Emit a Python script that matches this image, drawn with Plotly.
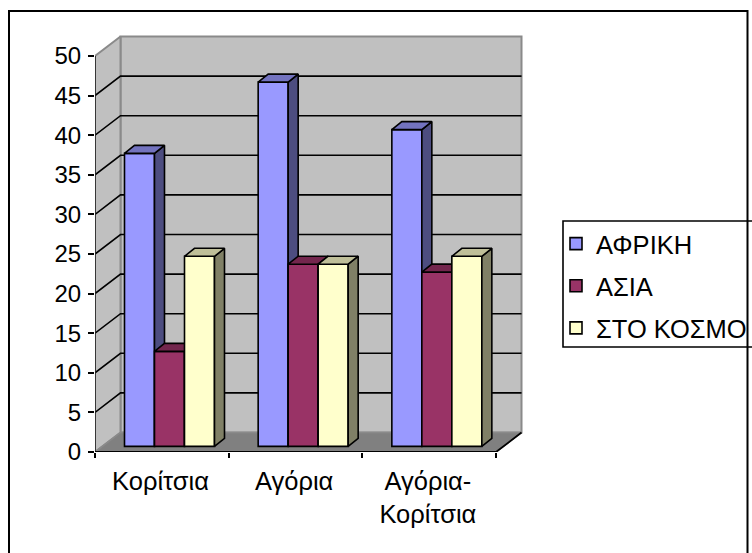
import plotly.graph_objects as go

categories = ["Κορίτσια", "Αγόρια", "Αγόρια-<br>Κορίτσια"]
africa = [37, 46, 40]
asia = [12, 23, 22]
world = [24, 23, 24]
series_names = ["ΑΦΡΙΚΗ", "ΑΣΙΑ", "ΣΤΟ ΚΟΣΜΟ"]
y_ticks = [0, 5, 10, 15, 20, 25, 30, 35, 40, 45, 50]

FONT = "Liberation Sans, Arial, sans-serif"
W, H = 752, 553
PX_L, PX_R, PX_T, PX_B = 95, 530, 28, 452
PX_PER_CAT = 133.67
PX_PER_UNIT = 7.92
XMAX = (PX_R - PX_L) / PX_PER_CAT
YMAX = (PX_B - PX_T) / PX_PER_UNIT
NCAT = len(categories)
TOP = y_ticks[-1]

WALL_DX = 25.5 / PX_PER_CAT
WALL_DY = 19.5 / PX_PER_UNIT
BAR_DX = 10 / PX_PER_CAT
BAR_DY = 8 / PX_PER_UNIT
BAR_W = 30 / PX_PER_CAT
BAR_BASE = 5.6 / PX_PER_UNIT
GROUP_OFF = 29.5 / PX_PER_CAT

WALL = "#c0c0c0"
FLOOR = "#808080"
EDGE = "#8a8a8a"

fig = go.Figure()


def poly(xs, ys, fill, line="black", lw=1.6, ax=""):
    fig.add_trace(go.Scatter(x=xs, y=ys, mode="lines", fill="toself", fillcolor=fill,
                             line=dict(color=line, width=lw), showlegend=False,
                             hoverinfo="skip", xaxis="x" + ax, yaxis="y" + ax))


def seg(xs, ys, color, lw):
    fig.add_trace(go.Scatter(x=xs, y=ys, mode="lines", line=dict(color=color, width=lw),
                             showlegend=False, hoverinfo="skip", cliponaxis=False))


right = NCAT + WALL_DX
# walls and floor
poly([WALL_DX, right, right, WALL_DX, WALL_DX],
     [WALL_DY, WALL_DY, TOP + WALL_DY, TOP + WALL_DY, WALL_DY], WALL, EDGE, 2)
poly([0, WALL_DX, WALL_DX, 0, 0], [0, WALL_DY, TOP + WALL_DY, TOP, 0], WALL, EDGE, 2)
poly([0, NCAT, right, WALL_DX, 0], [0, 0, WALL_DY, WALL_DY, 0], FLOOR, EDGE, 1.5)
# gridlines
for v in y_ticks[1:-1]:
    seg([0, WALL_DX, right], [v, v + WALL_DY, v + WALL_DY], "black", 1.6)
# axis lines
seg([0, 0], [0, TOP], "#222222", 1.6)
seg([0, NCAT, right], [0, 0, WALL_DY], "black", 1.8)

# bars, one overlay per series so that later series cover earlier side faces
styles = [
    (africa, "#9999ff", "#4d4d80", "#7373bf"),
    (asia, "#993366", "#4d1933", "#73264d"),
    (world, "#ffffcc", "#808066", "#bfbf99"),
]
for s, (vals, front, side, top) in enumerate(styles):
    ax = str(s + 2)
    lefts = [c + GROUP_OFF + s * BAR_W for c in range(NCAT)]
    fig.add_trace(go.Bar(x=[l + BAR_W / 2 for l in lefts], y=vals, base=BAR_BASE, width=BAR_W,
                         name=series_names[s], marker=dict(color=front, line=dict(color="black", width=1.6)),
                         legendgroup=series_names[s], hoverinfo="skip", xaxis="x" + ax, yaxis="y" + ax))
    for l, v in zip(lefts, vals):
        r = l + BAR_W
        t = BAR_BASE + v
        poly([r, r + BAR_DX, r + BAR_DX, r, r],
             [BAR_BASE, BAR_BASE + BAR_DY, t + BAR_DY, t, BAR_BASE], side, ax=ax)
        poly([l, r, r + BAR_DX, l + BAR_DX, l], [t, t, t + BAR_DY, t + BAR_DY, t], top, ax=ax)

PW = PX_R - PX_L
PH = PX_B - PX_T


def paper_x(px):
    return (px - PX_L) / PW


def paper_y(px):
    return (PX_B - px) / PH


layout = dict(
    width=W, height=H, autosize=False,
    margin=dict(l=PX_L, r=W - PX_R, t=PX_T, b=H - PX_B, pad=0, autoexpand=False),
    paper_bgcolor="white", plot_bgcolor="white",
    font=dict(family=FONT, size=24, color="black"),
    barmode="overlay",
    xaxis=dict(range=[0, XMAX], tickmode="array", tickvals=[i + 0.49 for i in range(NCAT)],
               ticktext=categories, ticks="", showgrid=False, zeroline=False, showline=False,
               ticklabelstandoff=11, tickfont=dict(size=25.5),
               minor=dict(tickmode="array", tickvals=list(range(NCAT + 1)), ticks="outside",
                          ticklen=5, tickwidth=1.6, tickcolor="black", showgrid=False)),
    yaxis=dict(range=[0, YMAX], tickmode="array", tickvals=y_ticks, ticks="outside", ticklen=6,
               tickwidth=1.6, tickcolor="black", showgrid=False, zeroline=False, showline=False,
               ticklabelstandoff=2, tickfont=dict(size=24)),
    legend=dict(x=paper_x(556), xanchor="left", y=paper_y(220.5), yanchor="top",
                borderwidth=0, bgcolor="rgba(0,0,0,0)", tracegroupgap=6,
                font=dict(size=25.5, family=FONT), traceorder="grouped", maxheight=300,
                itemclick=False, itemdoubleclick=False),
    shapes=[
        dict(type="rect", xref="paper", yref="paper", x0=paper_x(9), x1=1.5,
             y0=-0.5, y1=paper_y(11), line=dict(color="black", width=2), layer="below"),
        dict(type="rect", xref="paper", yref="paper", x0=paper_x(563), x1=paper_x(770),
             y0=paper_y(347), y1=paper_y(221), line=dict(color="black", width=1.6), layer="below"),
    ],
)
for i in ("2", "3", "4"):
    layout["xaxis" + i] = dict(overlaying="x", matches="x", visible=False)
    layout["yaxis" + i] = dict(overlaying="y", matches="y", visible=False)
fig.update_layout(**layout)

fig.write_html("out.html", config=dict(displayModeBar=False),
               post_script="document.body.style.margin='0';")
